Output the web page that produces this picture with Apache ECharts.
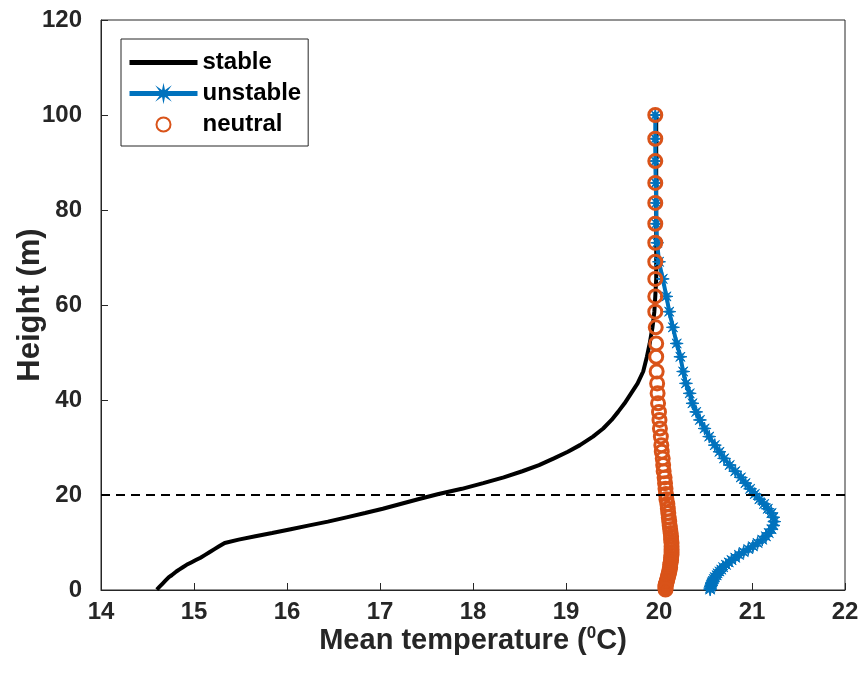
<!DOCTYPE html>
<html>
<head>
<meta charset="utf-8">
<script src="https://cdn.jsdelivr.net/npm/echarts@6/dist/echarts.min.js"></script>
<style>
html,body{margin:0;padding:0;background:#fff;}
#c{width:859px;height:684px;}
</style>
</head>
<body>
<div id="c"></div>
<script>
const heights = [100, 95.0, 90.3, 85.7, 81.5, 77.1, 73.1, 69.1, 65.5, 61.8, 58.6, 55.3, 51.9, 49.1, 46.0, 43.5, 41.4, 39.3, 37.5, 35.8, 34.0, 32.3, 30.5, 29.1, 27.7, 26.3, 25.0, 23.7, 22.5, 21.3, 20.2, 19.1, 18.1, 17.1, 16.2, 15.3, 14.4, 13.6, 12.8, 12.0, 11.3, 10.6, 9.9, 9.2, 8.6, 8.0, 7.4, 6.8, 6.3, 5.8, 5.3, 4.8, 4.3, 3.9, 3.5, 3.1, 2.7, 2.3, 1.9, 1.6, 1.3, 1.0, 0.7, 0.4, 0.1];

const stableTemp = [19.97, 19.97, 19.97, 19.97, 19.97, 19.97, 19.97, 19.97, 19.97, 19.96, 19.95, 19.93, 19.90, 19.87, 19.83, 19.77, 19.70, 19.63, 19.56, 19.49, 19.40, 19.29, 19.15, 19.02, 18.87, 18.71, 18.53, 18.33, 18.11, 17.88, 17.63, 17.41, 17.22, 17.03, 16.84, 16.64, 16.44, 16.24, 16.04, 15.84, 15.66, 15.48, 15.33, 15.27, 15.22, 15.17, 15.12, 15.07, 15.02, 14.97, 14.92, 14.88, 14.84, 14.81, 14.79, 14.76, 14.73, 14.71, 14.69, 14.68, 14.66, 14.65, 14.63, 14.62, 14.60];

const unstableTemp = [19.96, 19.96, 19.96, 19.965, 19.97, 19.97, 19.98, 20.00, 20.04, 20.08, 20.11, 20.15, 20.19, 20.23, 20.26, 20.29, 20.33, 20.36, 20.40, 20.44, 20.49, 20.54, 20.60, 20.65, 20.70, 20.76, 20.82, 20.88, 20.93, 20.98, 21.03, 21.08, 21.13, 21.17, 21.21, 21.23, 21.24, 21.23, 21.21, 21.18, 21.15, 21.11, 21.06, 21.01, 20.96, 20.91, 20.86, 20.82, 20.78, 20.75, 20.72, 20.69, 20.67, 20.65, 20.63, 20.62, 20.60, 20.59, 20.58, 20.57, 20.565, 20.56, 20.555, 20.55, 20.55];

const neutralTemp = [19.96, 19.96, 19.96, 19.96, 19.96, 19.96, 19.96, 19.96, 19.96, 19.96, 19.96, 19.965, 19.97, 19.97, 19.975, 19.98, 19.985, 19.99, 20.0, 20.005, 20.01, 20.02, 20.025, 20.03, 20.04, 20.045, 20.05, 20.06, 20.065, 20.07, 20.075, 20.08, 20.09, 20.095, 20.10, 20.105, 20.11, 20.115, 20.12, 20.125, 20.13, 20.13, 20.135, 20.135, 20.135, 20.135, 20.135, 20.13, 20.13, 20.125, 20.12, 20.12, 20.115, 20.11, 20.105, 20.10, 20.095, 20.09, 20.085, 20.08, 20.075, 20.07, 20.07, 20.07, 20.07];

const seriesNames = ['stable', 'unstable', 'neutral'];
const xTicks = {min: 14, max: 22, interval: 1};
const yTicks = {min: 0, max: 120, interval: 20};
const refHeight = 20;

const zip = (t) => heights.map((h, i) => [t[i], h]);
const FONT = '"Liberation Sans", Arial, Helvetica, sans-serif';
const STAR = 'path://M20 10 L13 8.6 L17.07 2.93 L11.4 7 L10 0 L8.6 7 L2.93 2.93 L7 8.6 L0 10 L7 11.4 L2.93 17.07 L8.6 13 L10 20 L11.4 13 L17.07 17.07 L13 11.4 Z';

const chart = echarts.init(document.getElementById('c'), null, {renderer: 'canvas'});
chart.setOption({
  animation: false,
  backgroundColor: '#fff',
  textStyle: {fontFamily: FONT},
  grid: {left: 101, right: 14, top: 20, bottom: 94, outerBoundsMode: 'none', containLabel: false,
    show: true, borderColor: '#262626', borderWidth: 1, backgroundColor: 'transparent'},
  legend: {
    orient: 'vertical', left: 121, top: 39,
    itemWidth: 68, itemHeight: 14, itemGap: 6,
    padding: [11, 7, 9, 6],
    borderColor: '#262626', borderWidth: 1, backgroundColor: '#fff',
    lineStyle: {width: 5},
    textStyle: {fontFamily: FONT, fontWeight: 'bold', fontSize: 24, lineHeight: 25, color: '#000'},
    data: [
      {name: seriesNames[0], itemStyle: {opacity: 0}},
      {name: seriesNames[1]},
      {name: seriesNames[2]}
    ]
  },
  xAxis: {
    type: 'value', min: xTicks.min, max: xTicks.max, interval: xTicks.interval,
    name: 'Mean temperature ({sup|0}C)', nameLocation: 'middle', nameGap: 35, nameMoveOverlap: false,
    nameTextStyle: {fontFamily: FONT, fontWeight: 'bold', fontSize: 29, color: '#262626',
      rich: {sup: {fontFamily: FONT, fontWeight: 'bold', fontSize: 17, color: '#262626', verticalAlign: 'top', padding: [0, 0, 14, 0]}}},
    axisLine: {show: true, onZero: false, lineStyle: {color: '#262626', width: 1}},
    axisTick: {show: true, inside: true, length: 7, lineStyle: {color: '#262626'}},
    axisLabel: {fontFamily: FONT, fontWeight: 'bold', fontSize: 24, color: '#262626', margin: 10},
    splitLine: {show: false}
  },
  yAxis: {
    type: 'value', min: yTicks.min, max: yTicks.max, interval: yTicks.interval,
    name: 'Height (m)', nameLocation: 'middle', nameGap: 55, nameRotate: 90, nameMoveOverlap: false,
    nameTextStyle: {fontFamily: FONT, fontWeight: 'bold', fontSize: 31, color: '#262626'},
    axisLine: {show: true, onZero: false, lineStyle: {color: '#262626', width: 1}},
    axisTick: {show: true, inside: true, length: 7, lineStyle: {color: '#262626'}},
    axisLabel: {fontFamily: FONT, fontWeight: 'bold', fontSize: 24, color: '#262626', margin: 19},
    splitLine: {show: false}
  },
  series: [
    {
      name: seriesNames[0], type: 'line', data: zip(stableTemp),
      symbol: 'none', lineStyle: {color: '#000', width: 4}, itemStyle: {color: '#000'},
      z: 2,
      markLine: {
        silent: true, symbol: ['none', 'none'], label: {show: false},
        lineStyle: {color: '#000', width: 2, type: [9, 6]},
        data: [{yAxis: refHeight}]
      }
    },
    {
      name: seriesNames[1], type: 'line', data: zip(unstableTemp),
      symbol: STAR, symbolSize: 13, showSymbol: true,
      lineStyle: {color: '#0072BD', width: 4},
      itemStyle: {color: '#0072BD', borderColor: '#0072BD', borderWidth: 1},
      z: 3
    },
    {
      name: seriesNames[2], type: 'scatter', data: zip(neutralTemp),
      symbol: 'circle', symbolSize: 13,
      itemStyle: {color: 'rgba(255,255,255,0)', borderColor: '#D95319', borderWidth: 3, opacity: 1},
      z: 4
    }
  ]
});
</script>
</body>
</html>
